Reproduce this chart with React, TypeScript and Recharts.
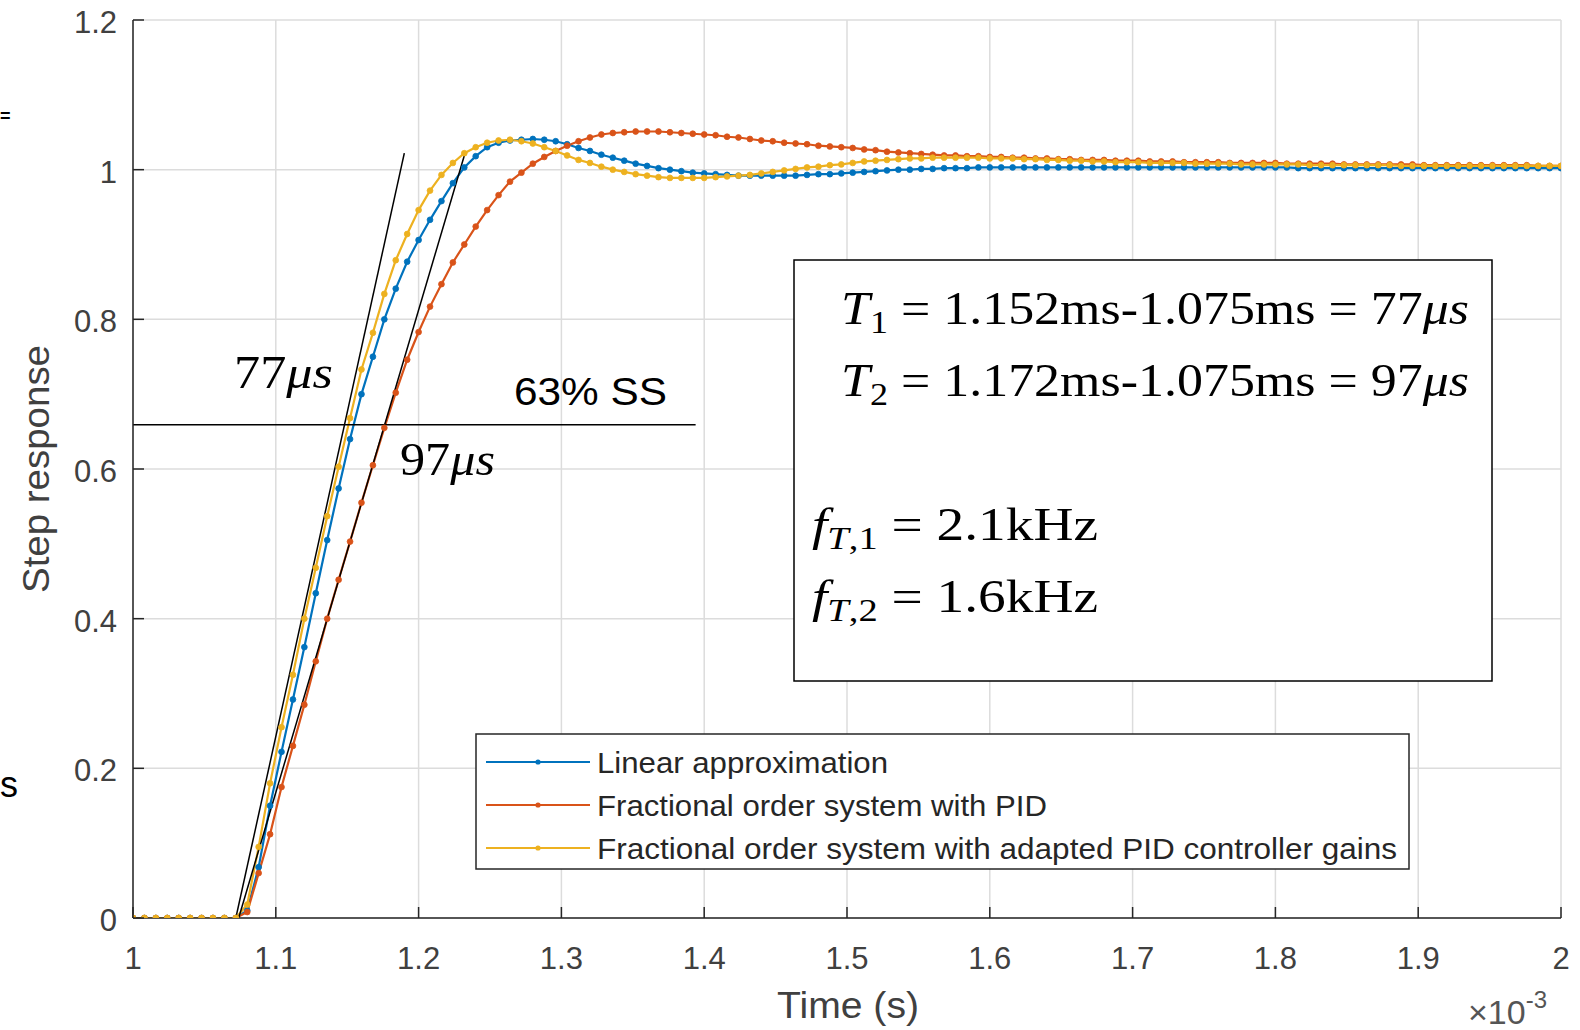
import React from 'react';
import { LineChart, Line, XAxis, YAxis, CartesianGrid } from 'recharts';

// time in ms (axis shown as x 10^-3 s)
const TIME = [
  1.000, 1.008, 1.016, 1.024, 1.032, 1.040, 1.048, 1.056, 1.064, 1.072,
  1.080, 1.088, 1.096, 1.104, 1.112, 1.120, 1.128, 1.136, 1.144, 1.152,
  1.160, 1.168, 1.176, 1.184, 1.192, 1.200, 1.208, 1.216, 1.224, 1.232,
  1.240, 1.248, 1.256, 1.264, 1.272, 1.280, 1.288, 1.296, 1.304, 1.312,
  1.320, 1.328, 1.336, 1.344, 1.352, 1.360, 1.368, 1.376, 1.384, 1.392,
  1.400, 1.408, 1.416, 1.424, 1.432, 1.440, 1.448, 1.456, 1.464, 1.472,
  1.480, 1.488, 1.496, 1.504, 1.512, 1.520, 1.528, 1.536, 1.544, 1.552,
  1.560, 1.568, 1.576, 1.584, 1.592, 1.600, 1.608, 1.616, 1.624, 1.632,
  1.640, 1.648, 1.656, 1.664, 1.672, 1.680, 1.688, 1.696, 1.704, 1.712,
  1.720, 1.728, 1.736, 1.744, 1.752, 1.760, 1.768, 1.776, 1.784, 1.792,
  1.800, 1.808, 1.816, 1.824, 1.832, 1.840, 1.848, 1.856, 1.864, 1.872,
  1.880, 1.888, 1.896, 1.904, 1.912, 1.920, 1.928, 1.936, 1.944, 1.952,
  1.960, 1.968, 1.976, 1.984, 1.992, 2.000,
];

const LINEAR = [
  0, 0, 0, 0, 0, 0, 0, 0, 0, 0,
  0.010, 0.068, 0.150, 0.222, 0.292, 0.362, 0.434, 0.505, 0.574, 0.640,
  0.700, 0.750, 0.800, 0.841, 0.877, 0.906, 0.933, 0.958, 0.982, 1.003,
  1.018, 1.030, 1.036, 1.039, 1.040, 1.041, 1.040, 1.038, 1.034, 1.029,
  1.025, 1.020, 1.016, 1.012, 1.008, 1.005, 1.002, 1.000, 0.998, 0.996,
  0.995, 0.994, 0.993, 0.992, 0.992, 0.992, 0.992, 0.992, 0.992, 0.993,
  0.994, 0.994, 0.995, 0.996, 0.997, 0.998, 0.999, 1.000, 1.000, 1.001,
  1.001, 1.002, 1.002, 1.002, 1.003, 1.003, 1.003, 1.003, 1.003, 1.003,
  1.003, 1.003, 1.003, 1.003, 1.003, 1.003, 1.003, 1.003, 1.003, 1.003,
  1.003, 1.003, 1.003, 1.003, 1.003, 1.003, 1.003, 1.003, 1.003, 1.003,
  1.003, 1.003, 1.002, 1.002, 1.002, 1.002, 1.002, 1.002, 1.002, 1.002,
  1.002, 1.002, 1.002, 1.002, 1.002, 1.002, 1.002, 1.002, 1.002, 1.002,
  1.002, 1.002, 1.002, 1.002, 1.002, 1.002,
];

const FRAC_PID = [
  0, 0, 0, 0, 0, 0, 0, 0, 0, 0,
  0.008, 0.060, 0.112, 0.175, 0.230, 0.285, 0.343, 0.400, 0.452, 0.503,
  0.555, 0.605, 0.655, 0.702, 0.746, 0.783, 0.817, 0.847, 0.876, 0.900,
  0.924, 0.946, 0.966, 0.984, 0.996, 1.008, 1.017, 1.025, 1.032, 1.038,
  1.043, 1.047, 1.049, 1.050, 1.051, 1.051, 1.051, 1.050, 1.049, 1.048,
  1.047, 1.046, 1.044, 1.043, 1.041, 1.039, 1.038, 1.036, 1.035, 1.034,
  1.032, 1.031, 1.030, 1.029, 1.027, 1.026, 1.024, 1.023, 1.022, 1.021,
  1.020, 1.019, 1.019, 1.018, 1.018, 1.017, 1.017, 1.016, 1.016, 1.015,
  1.015, 1.014, 1.014, 1.013, 1.013, 1.013, 1.012, 1.012, 1.012, 1.011,
  1.011, 1.011, 1.010, 1.010, 1.010, 1.010, 1.009, 1.009, 1.009, 1.009,
  1.009, 1.008, 1.008, 1.008, 1.008, 1.008, 1.007, 1.007, 1.007, 1.007,
  1.007, 1.007, 1.007, 1.006, 1.006, 1.006, 1.006, 1.006, 1.006, 1.006,
  1.006, 1.006, 1.006, 1.005, 1.005, 1.005,
];

const FRAC_ADAPTED = [
  0, 0, 0, 0, 0, 0, 0, 0, 0, 0,
  0.018, 0.095, 0.180, 0.255, 0.325, 0.400, 0.468, 0.537, 0.603, 0.668,
  0.733, 0.782, 0.834, 0.879, 0.914, 0.946, 0.972, 0.993, 1.009, 1.022,
  1.030, 1.036, 1.039, 1.040, 1.038, 1.035, 1.030, 1.025, 1.019, 1.013,
  1.009, 1.004, 1.000, 0.997, 0.994, 0.992, 0.990, 0.989, 0.989, 0.989,
  0.989, 0.990, 0.991, 0.992, 0.993, 0.995, 0.997, 0.999, 1.001, 1.003,
  1.004, 1.006, 1.007, 1.009, 1.011, 1.012, 1.013, 1.014, 1.015, 1.015,
  1.016, 1.016, 1.016, 1.016, 1.016, 1.015, 1.015, 1.015, 1.014, 1.014,
  1.013, 1.013, 1.012, 1.012, 1.011, 1.011, 1.010, 1.010, 1.010, 1.009,
  1.009, 1.009, 1.009, 1.008, 1.008, 1.008, 1.008, 1.007, 1.007, 1.007,
  1.007, 1.007, 1.007, 1.006, 1.006, 1.006, 1.006, 1.006, 1.006, 1.006,
  1.006, 1.005, 1.005, 1.005, 1.005, 1.005, 1.005, 1.005, 1.005, 1.005,
  1.005, 1.005, 1.005, 1.005, 1.005, 1.005,
];

const X_TICKS = [1, 1.1, 1.2, 1.3, 1.4, 1.5, 1.6, 1.7, 1.8, 1.9, 2];
const Y_TICKS = [0, 0.2, 0.4, 0.6, 0.8, 1, 1.2];

const SERIES_NAMES = [
  'Linear approximation',
  'Fractional order system with PID',
  'Fractional order system with adapted PID controller gains',
];
const SERIES_COLORS = ['#0072BD', '#D95319', '#EDB120'];

// annotation lines (data units)
const TANGENT_1 = [{ t: 1.072, y: 0 }, { t: 1.190, y: 1.022 }];
const TANGENT_2 = [{ t: 1.074, y: 0 }, { t: 1.2325, y: 1.022 }];
const SS63_LINE = [{ t: 1.0, y: 0.659 }, { t: 1.394, y: 0.659 }];

const data = TIME.map((t, i) => ({ t, lin: LINEAR[i], pid: FRAC_PID[i], ada: FRAC_ADAPTED[i] }));

const SANS = "'Liberation Sans', Arial, Helvetica, sans-serif";
const SERIF = "'Liberation Serif', 'Times New Roman', serif";
const AXIS_COLOR = '#262626';
const TICK_LEN = 11;

const fmt = (v: number) => String(Math.round(v * 10) / 10);

const BottomTick = (props: any) => {
  const { x, y, payload } = props;
  return (
    <g>
      <line x1={x} y1={y} x2={x} y2={y - TICK_LEN} stroke={AXIS_COLOR} strokeWidth={1.5} />
      <text x={x} y={y + 51} textAnchor="middle" fontSize={31} fill="#404040" fontFamily={SANS}>
        {fmt(payload.value)}
      </text>
    </g>
  );
};

const TopTick = (props: any) => {
  const { x, y } = props;
  return <line x1={x} y1={y} x2={x} y2={y + TICK_LEN} stroke={AXIS_COLOR} strokeWidth={1.5} />;
};

const LeftTick = (props: any) => {
  const { x, y, payload } = props;
  return (
    <g>
      <line x1={x} y1={y} x2={x + TICK_LEN} y2={y} stroke={AXIS_COLOR} strokeWidth={1.5} />
      <text x={x - 16} y={y + 13} textAnchor="end" fontSize={31} fill="#404040" fontFamily={SANS}>
        {fmt(payload.value)}
      </text>
    </g>
  );
};

const RightTick = (props: any) => {
  const { x, y } = props;
  return <line x1={x} y1={y} x2={x - TICK_LEN} y2={y} stroke={AXIS_COLOR} strokeWidth={1.5} />;
};

const axisLine = { stroke: AXIS_COLOR, strokeWidth: 1.5 };

const dotStyle = (c: string) => ({ r: 2.9, fill: c, stroke: c, strokeWidth: 0.8 });

export default function App() {
  return (
    <div style={{ position: 'absolute', left: 0, top: 0, width: 1580, height: 1030, background: '#fff' }}>
      <LineChart
        width={1580}
        height={1030}
        data={data}
        margin={{ top: 20, right: 19, bottom: 0, left: 0 }}
      >
        <CartesianGrid stroke="#dcdcdc" strokeWidth={1.5} />
        <XAxis
          dataKey="t"
          type="number"
          domain={[1, 2]}
          ticks={X_TICKS}
          interval={0}
          height={112}
          tickSize={0}
          tickMargin={0}
          tick={<BottomTick />}
          axisLine={axisLine}
          allowDataOverflow
        />
        <XAxis
          xAxisId="top"
          orientation="top"
          dataKey="t"
          type="number"
          domain={[1, 2]}
          ticks={X_TICKS}
          interval={0}
          height={0}
          tickSize={0}
          tickMargin={0}
          tick={<TopTick />}
          axisLine={axisLine}
          allowDataOverflow
        />
        <YAxis
          type="number"
          domain={[0, 1.2]}
          ticks={Y_TICKS}
          interval={0}
          width={133}
          tickSize={0}
          tickMargin={0}
          tick={<LeftTick />}
          axisLine={axisLine}
          allowDataOverflow
        />
        <YAxis
          yAxisId="right"
          orientation="right"
          type="number"
          domain={[0, 1.2]}
          ticks={Y_TICKS}
          interval={0}
          width={0}
          tickSize={0}
          tickMargin={0}
          tick={<RightTick />}
          axisLine={axisLine}
          allowDataOverflow
        />
        <Line
          dataKey="lin"
          name={SERIES_NAMES[0]}
          stroke={SERIES_COLORS[0]}
          strokeWidth={2.2}
          dot={dotStyle(SERIES_COLORS[0])}
          isAnimationActive={false}
        />
        <Line
          dataKey="pid"
          name={SERIES_NAMES[1]}
          stroke={SERIES_COLORS[1]}
          strokeWidth={2.2}
          dot={dotStyle(SERIES_COLORS[1])}
          isAnimationActive={false}
        />
        <Line
          dataKey="ada"
          name={SERIES_NAMES[2]}
          stroke={SERIES_COLORS[2]}
          strokeWidth={2.2}
          dot={dotStyle(SERIES_COLORS[2])}
          isAnimationActive={false}
        />
        <Line data={TANGENT_1} dataKey="y" stroke="#000" strokeWidth={1.5} dot={false} isAnimationActive={false} />
        <Line data={TANGENT_2} dataKey="y" stroke="#000" strokeWidth={1.5} dot={false} isAnimationActive={false} />
        <Line data={SS63_LINE} dataKey="y" stroke="#000" strokeWidth={1.5} dot={false} isAnimationActive={false} />
      </LineChart>

      <svg
        width={1580}
        height={1030}
        style={{ position: 'absolute', left: 0, top: 0, pointerEvents: 'none' }}
      >
        {/* stray glyphs from the surrounding document */}
        <text x={0} y={122} fontSize={18} fontWeight="bold" fontFamily={SANS} fill="#000">=</text>
        <text x={0} y={797} fontSize={36} fontFamily={SANS} fill="#000">s</text>

        {/* axis labels */}
        <text x={848} y={1018} textAnchor="middle" fontSize={37} fontFamily={SANS} fill="#404040" textLength={142} lengthAdjust="spacingAndGlyphs">
          Time (s)
        </text>
        <text transform="translate(49,469) rotate(-90)" textAnchor="middle" fontSize={37} fontFamily={SANS} fill="#404040" textLength={248} lengthAdjust="spacingAndGlyphs">
          Step response
        </text>
        <text x={1468} y={1024} fontSize={34} fontFamily={SANS} fill="#555">
          ×10<tspan fontSize={24} dy={-16}>-3</tspan>
        </text>

        {/* in-plot annotations */}
        <text x={234} y={388} fontSize={46} fontFamily={SERIF} fill="#000" textLength={99} lengthAdjust="spacingAndGlyphs">
          77<tspan fontStyle="italic">μs</tspan>
        </text>
        <text x={400} y={475} fontSize={46} fontFamily={SERIF} fill="#000" textLength={95} lengthAdjust="spacingAndGlyphs">
          97<tspan fontStyle="italic">μs</tspan>
        </text>
        <text x={514} y={405} fontSize={39} fontFamily={SANS} fill="#000" textLength={153} lengthAdjust="spacingAndGlyphs">
          63% SS
        </text>

        {/* info box */}
        <rect x={794} y={260} width={698} height={421} fill="#fff" stroke="#000" strokeWidth={1.5} />
        <text x={841} y={324} fontSize={46} fontFamily={SERIF} fill="#000" textLength={628} lengthAdjust="spacingAndGlyphs">
          <tspan fontStyle="italic">T</tspan>
          <tspan fontSize={32} dy={9}>1</tspan>
          <tspan dy={-9}>{' = 1.152ms-1.075ms = 77'}</tspan>
          <tspan fontStyle="italic">μs</tspan>
        </text>
        <text x={841} y={396} fontSize={46} fontFamily={SERIF} fill="#000" textLength={628} lengthAdjust="spacingAndGlyphs">
          <tspan fontStyle="italic">T</tspan>
          <tspan fontSize={32} dy={9}>2</tspan>
          <tspan dy={-9}>{' = 1.172ms-1.075ms = 97'}</tspan>
          <tspan fontStyle="italic">μs</tspan>
        </text>
        <text x={812} y={540} fontSize={46} fontFamily={SERIF} fill="#000" textLength={286} lengthAdjust="spacingAndGlyphs">
          <tspan fontStyle="italic">f</tspan>
          <tspan fontSize={32} dy={9} fontStyle="italic">T</tspan>
          <tspan fontSize={32}>,1</tspan>
          <tspan dy={-9}>{' = 2.1kHz'}</tspan>
        </text>
        <text x={812} y={612} fontSize={46} fontFamily={SERIF} fill="#000" textLength={286} lengthAdjust="spacingAndGlyphs">
          <tspan fontStyle="italic">f</tspan>
          <tspan fontSize={32} dy={9} fontStyle="italic">T</tspan>
          <tspan fontSize={32}>,2</tspan>
          <tspan dy={-9}>{' = 1.6kHz'}</tspan>
        </text>

        {/* legend */}
        <rect x={476} y={734} width={933} height={135} fill="#fff" stroke={AXIS_COLOR} strokeWidth={1.5} />
        {SERIES_NAMES.map((name, i) => {
          const cy = 762 + i * 43;
          const widths = [291, 450, 800];
          return (
            <g key={name}>
              <line x1={486} y1={cy} x2={590} y2={cy} stroke={SERIES_COLORS[i]} strokeWidth={2.2} />
              <circle cx={538} cy={cy} r={2.6} fill={SERIES_COLORS[i]} />
              <text x={597} y={cy + 11} fontSize={30} fontFamily={SANS} fill="#262626" textLength={widths[i]} lengthAdjust="spacingAndGlyphs">
                {name}
              </text>
            </g>
          );
        })}
      </svg>
    </div>
  );
}
